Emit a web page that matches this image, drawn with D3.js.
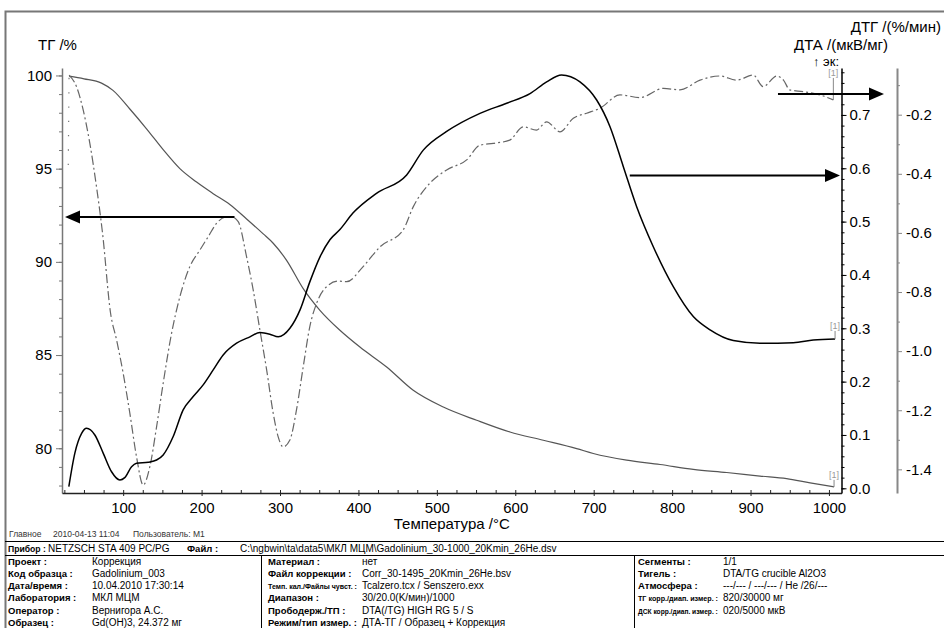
<!DOCTYPE html>
<html><head><meta charset="utf-8">
<script src="https://cdn.jsdelivr.net/npm/d3@7"></script>
<style>
body{margin:0;background:#fff;}
svg{display:block;font-family:"Liberation Sans",Arial,sans-serif;}
</style></head><body>
<svg id="c" width="944" height="628"></svg>
<script>
// ---------------- data ----------------
const tgTemp  = [31,50,72.4,87,108.5,129.8,151,172.3,193.6,214.8,236,257.4,278.6,291.3,308.4,329.6,350.9,376.4,401.9,436,469.9,508.2,550.8,593.2,635.7,678.3,699.5,742,784.6,827,869.6,912,946,976,1006.5];
const tgValue = [99.96,99.82,99.59,99.2,98.2,97.14,96.02,95.0,94.28,93.66,93.08,92.3,91.5,91.0,90.08,88.56,87.4,86.33,85.43,84.36,83.11,82.21,81.5,80.87,80.43,79.98,79.72,79.36,79.13,78.87,78.7,78.51,78.37,78.14,77.93];

const dtaTemp  = [30.7,38.4,47,53.3,63.9,74.5,85.2,95.8,102,110.7,117,132,142.6,151,163.8,176.5,189.3,202,214.8,227.5,244.6,261.6,274.4,287,297.7,312.6,325.4,338,351,363.6,376.4,393,423,461.5,482.7,512.5,555,589,618.8,640,659,682.5,703.8,720.8,737.8,754.8,776,801.5,827,848.4,878,912,954.6,980,1007.8];
const dtaValue = [0.003,0.066,0.103,0.1125,0.100,0.066,0.031,0.0156,0.020,0.0405,0.047,0.049,0.053,0.0625,0.097,0.147,0.172,0.194,0.222,0.250,0.272,0.284,0.292,0.289,0.284,0.300,0.334,0.387,0.434,0.466,0.485,0.516,0.553,0.5875,0.634,0.669,0.703,0.722,0.740,0.762,0.775,0.762,0.728,0.678,0.603,0.528,0.453,0.378,0.322,0.297,0.277,0.272,0.273,0.278,0.280];

const dtgTemp  = [30,31,40.5,49,57.5,66,73.7,83.9,91.6,100,108.5,117,125.5,134,142.6,151,161.7,172.3,185,197.8,208.4,219,229.7,238,246.7,257.4,265.8,274.4,283,291.3,297.7,304,312.6,321,329.6,338,346.7,359.4,374,385,406,427.5,457,470,491,512.5,538,555,572,593,610,627,640,657,674,691,708,733.5,759,789,810,835.6,861,882,903.6,916,933.5,942,950,967,988.7,1005.6];
const dtgValue = [-0.37,-0.066,-0.105,-0.184,-0.297,-0.444,-0.601,-0.871,-0.962,-1.075,-1.210,-1.357,-1.453,-1.391,-1.256,-1.109,-0.940,-0.816,-0.714,-0.658,-0.613,-0.568,-0.547,-0.545,-0.562,-0.681,-0.793,-0.929,-1.064,-1.210,-1.290,-1.324,-1.301,-1.199,-1.053,-0.917,-0.838,-0.782,-0.763,-0.765,-0.714,-0.647,-0.590,-0.511,-0.432,-0.387,-0.353,-0.303,-0.297,-0.286,-0.241,-0.252,-0.224,-0.258,-0.212,-0.195,-0.178,-0.133,-0.142,-0.111,-0.116,-0.083,-0.069,-0.083,-0.066,-0.105,-0.069,-0.083,-0.116,-0.122,-0.133,-0.150];

const xTicks   = [100,200,300,400,500,600,700,800,900,1000];
const tgTicks  = [80,85,90,95,100];
const dtaTicks = [0.0,0.1,0.2,0.3,0.4,0.5,0.6,0.7];
const dtgTicks = [-1.4,-1.2,-1.0,-0.8,-0.6,-0.4,-0.2];

// arrows: [temperature of tail, value on own axis]
const arrowTG  = [242, 92.41];
const arrowDTA = [746, 0.5865];
const arrowDTG = [935, -0.13];

const footerTop = ["Главное", "2010-04-13 11:04", "Пользователь: M1"];
const deviceRow = ["Прибор :", "NETZSCH STA 409 PC/PG", "Файл :", "C:\\ngbwin\\ta\\data5\\МКЛ МЦМ\\Gadolinium_30-1000_20Kmin_26He.dsv"];
const col1Labels = ["Проект :", "Код образца :", "Дата/время :", "Лаборатория :", "Оператор :", "Образец :"];
const col1Values = ["Коррекция", "Gadolinium_003", "10.04.2010 17:30:14", "МКЛ МЦМ", "Вернигора А.С.", "Gd(OH)3, 24.372 мг"];
const col2Labels = ["Материал :", "Файл коррекции :", "Темп. кал./Файлы чувст. :", "Диапазон :", "Прободерж./ТП :", "Режим/тип измер. :"];
const col2Values = ["нет", "Corr_30-1495_20Kmin_26He.bsv", "Tcalzero.tcx / Senszero.exx", "30/20.0(K/мин)/1000", "DTA(/TG) HIGH RG 5 / S", "ДТА-ТГ / Образец + Коррекция"];
const col3Labels = ["Сегменты :", "Тигель :", "Атмосфера :", "ТГ корр./диап. измер. :", "ДСК корр./диап. измер. :"];
const col3Values = ["1/1", "DTA/TG crucible Al2O3", "---/--- / ---/--- / He /26/---", "820/30000 мг", "020/5000 мкВ"];

// ---------------- drawing ----------------
const svg = d3.select('#c');
const L = 62, R = 841.5, T = 68, B = 493, R2 = 897;
const x    = d3.scaleLinear().domain([22,1016]).range([L,R]);
const yTG  = d3.scaleLinear().domain([77.6,100.4]).range([B,T]);
const yDTA = d3.scaleLinear().domain([-0.0088,0.788]).range([B,T]);
const yDTG = d3.scaleLinear().domain([-1.48,-0.042]).range([B,T]);

// frame
svg.append('path').attr('d',`M944,11.5H5.5V628`).attr('fill','none').attr('stroke','#777').attr('stroke-width',2);

function styleAxis(g, color, fs){
  g.select('.domain').attr('stroke',color).attr('stroke-width',1.5);
  g.selectAll('.tick line').attr('stroke',color);
  g.selectAll('.tick text').attr('fill','#000').attr('font-size',fs).attr('font-family','"Liberation Sans",Arial,sans-serif');
}
// left TG axis
const gTG = svg.append('g').attr('transform',`translate(${L},0)`)
  .call(d3.axisLeft(yTG).tickValues(tgTicks).tickSize(6).tickSizeOuter(0).tickPadding(4).tickFormat(d3.format('d')));
styleAxis(gTG,'#777',15);
const gTGm = svg.append('g').attr('transform',`translate(${L},0)`)
  .call(d3.axisLeft(yTG).tickValues(d3.range(78,101,1)).tickSize(3).tickSizeOuter(0).tickFormat(''));
gTGm.select('.domain').remove(); gTGm.selectAll('line').attr('stroke','#777');

// x axis
const gX = svg.append('g').attr('transform',`translate(0,${B})`)
  .call(d3.axisBottom(x).tickValues(xTicks).tickSize(3).tickSizeOuter(0).tickPadding(6).tickFormat(d3.format('d')));
styleAxis(gX,'#222',15);
const gXm = svg.append('g').attr('transform',`translate(0,${B})`)
  .call(d3.axisTop(x).tickValues(d3.range(25,1016,25)).tickSize(3).tickSizeOuter(0).tickFormat(''));
gXm.select('.domain').remove(); gXm.selectAll('line').attr('stroke','#222');

// DTA axis
const gD = svg.append('g').attr('transform',`translate(${R},0)`)
  .call(d3.axisRight(yDTA).tickValues(dtaTicks).tickSize(5).tickSizeOuter(0).tickPadding(3).tickFormat(d=>d.toFixed(1)));
styleAxis(gD,'#000',15);
const gDm = svg.append('g').attr('transform',`translate(${R},0)`)
  .call(d3.axisRight(yDTA).tickValues(d3.range(0,0.79,0.02)).tickSize(3).tickSizeOuter(0).tickFormat(''));
gDm.select('.domain').remove(); gDm.selectAll('line').attr('stroke','#000');

// DTG axis
const gG = svg.append('g').attr('transform',`translate(${R2},0)`)
  .call(d3.axisRight(yDTG).tickValues(dtgTicks).tickSize(5).tickSizeOuter(0).tickPadding(4).tickFormat(d=>d.toFixed(1)));
styleAxis(gG,'#888',15);
gG.select('.domain').attr('stroke-width',2);
const gGm = svg.append('g').attr('transform',`translate(${R2},0)`)
  .call(d3.axisRight(yDTG).tickValues(d3.range(-1.3,-0.05,0.2)).tickSize(3).tickSizeOuter(0).tickFormat(''));
gGm.select('.domain').remove(); gGm.selectAll('line').attr('stroke','#888');

// axis titles
const txt = (s,xx,yy,fs,anchor,fill)=>svg.append('text').text(s).attr('x',xx).attr('y',yy)
  .attr('font-size',fs).attr('text-anchor',anchor||'start').attr('fill',fill||'#000');
txt('ТГ /%',38,50,15);
txt('ДТГ /(%/мин)',941,32,15,'end');
txt('ДТА /(мкВ/мг)',888,50,15,'end');
txt('↑ эк:',813,66,13);
txt('Температура /°C',(L+R)/2,529,15,'middle');

// curves
const zip = (a,b)=>a.map((v,i)=>[v,b[i]]);
const lineTG  = d3.line().x(d=>x(d[0])).y(d=>yTG(d[1])).curve(d3.curveMonotoneX);
const lineDTA = d3.line().x(d=>x(d[0])).y(d=>yDTA(d[1])).curve(d3.curveMonotoneX);
const lineDTG = d3.line().x(d=>x(d[0])).y(d=>yDTG(d[1])).curve(d3.curveMonotoneX);
const tgData = zip(tgTemp,tgValue), dtaData = zip(dtaTemp,dtaValue), dtgData = zip(dtgTemp,dtgValue);
svg.append('path').attr('d',lineTG(tgData)).attr('fill','none').attr('stroke','#555').attr('stroke-width',1.2);
// initial DTG jump appears only as sparse dots in the reference
svg.append('path').attr('d',d3.line().x(d=>x(d[0])).y(d=>yDTG(d[1]))(dtgData.slice(0,2))).attr('fill','none')
  .attr('stroke','#777').attr('stroke-width',1.2).attr('stroke-dasharray','1.3,13');
svg.append('path').attr('d',lineDTG(dtgData.slice(1))).attr('fill','none').attr('stroke','#666').attr('stroke-width',1.2).attr('stroke-dasharray','9,3,2,3');
svg.append('path').attr('d',lineDTA(dtaData)).attr('fill','none').attr('stroke','#000').attr('stroke-width',1.5);

// [1] segment markers at curve ends
[[tgData,yTG,7],[dtaData,yDTA,8],[dtgData,yDTG,22]].forEach(([data,ys,len])=>{
  const last = data[data.length-1];
  const px = x(last[0]), py = ys(last[1]);
  svg.append('line').attr('x1',px).attr('x2',px).attr('y1',py).attr('y2',py-len).attr('stroke','#888').attr('stroke-width',1);
  txt('[1]',px,py-len-2,9,'middle','#999');
});

// arrows
function arrow(x1,y,x2){
  const dir = Math.sign(x2-x1), hl = 15, hw = 6.5;
  svg.append('line').attr('x1',x1).attr('x2',x2-dir*hl+dir*1).attr('y1',y).attr('y2',y).attr('stroke','#000').attr('stroke-width',2);
  svg.append('path').attr('d',`M${x2},${y}L${x2-dir*hl},${y-hw}L${x2-dir*hl},${y+hw}Z`).attr('fill','#000');
}
arrow(x(arrowTG[0]), yTG(arrowTG[1]), L+3);
arrow(x(arrowDTA[0]), yDTA(arrowDTA[1]), R-1.5);
arrow(x(arrowDTG[0]), yDTG(arrowDTG[1]), R2-13);

// footer
const ft = svg.append('g').attr('font-size',8.5).attr('fill','#333');
[[footerTop[0],9],[footerTop[1],53],[footerTop[2],133]].forEach(([s,xx])=>ft.append('text').text(s).attr('x',xx).attr('y',536.5));
svg.append('line').attr('x1',5).attr('x2',944).attr('y1',541.5).attr('y2',541.5).attr('stroke','#000').attr('stroke-width',1);
svg.append('line').attr('x1',5).attr('x2',944).attr('y1',555.5).attr('y2',555.5).attr('stroke','#000').attr('stroke-width',1);
svg.append('line').attr('x1',261.5).attr('x2',261.5).attr('y1',555.5).attr('y2',628).attr('stroke','#000').attr('stroke-width',1);
svg.append('line').attr('x1',634.5).attr('x2',634.5).attr('y1',555.5).attr('y2',628).attr('stroke','#000').attr('stroke-width',1);

// text that shrinks its font size when it would run into the next column
function fitText(s,xx,yy,bold,maxW,fs){
  fs = fs||10;
  const t = svg.append('text').text(s).attr('x',xx).attr('y',yy).attr('font-size',fs)
    .attr('font-weight',bold?'bold':'normal').attr('fill','#000');
  if(maxW){ const w = t.node().getComputedTextLength(); if(w>maxW) t.attr('font-size',(fs*maxW/w).toFixed(2)); }
  return t;
}
fitText(deviceRow[0],8,552,true,38,9.5);
fitText(deviceRow[1],48,552,false,134);
fitText(deviceRow[2],187,552,true,46,9.5);
fitText(deviceRow[3],240,552,false,null);
const rowY = i=>564.5+i*12.3;
col1Labels.forEach((s,i)=>fitText(s,8,rowY(i),true,80,9.5));
col1Values.forEach((s,i)=>fitText(s,92,rowY(i),false,165));
col2Labels.forEach((s,i)=>fitText(s,268,rowY(i),true,89,9.5));
col2Values.forEach((s,i)=>fitText(s,362,rowY(i),false,268));
col3Labels.forEach((s,i)=>fitText(s,638,rowY(i),true,80,9.5));
col3Values.forEach((s,i)=>fitText(s,723,rowY(i),false,215));
</script>
</body></html>
